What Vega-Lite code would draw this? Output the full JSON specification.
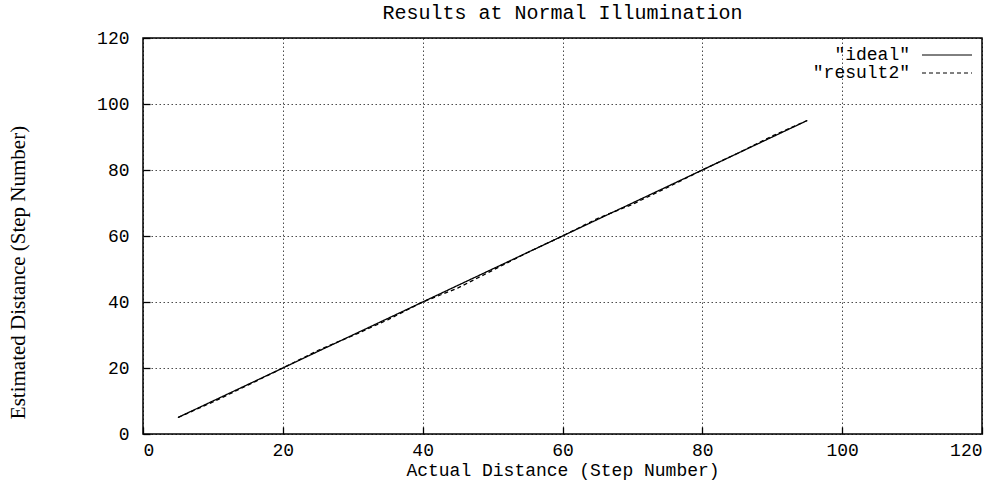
{
  "$schema": "https://vega.github.io/schema/vega-lite/v6.json",
  "autosize": "none",
  "width": 839,
  "height": 396,
  "padding": {"left": 143, "top": 38, "right": 26, "bottom": 49},
  "background": "white",
  "title": {"text": "Results at Normal Illumination", "font": "Liberation Mono", "fontSize": 20, "fontWeight": "normal", "color": "black", "offset": 6, "anchor": "middle"},
  "config": {
    "view": {"stroke": "black", "strokeWidth": 1.5},
    "axis": {
      "domain": false,
      "grid": true,
      "gridColor": "black",
      "gridDash": [1.5, 2.5],
      "gridOpacity": 0.7,
      "gridWidth": 1,
      "ticks": true,
      "tickColor": "black",
      "tickSize": -7,
      "tickWidth": 1.3,
      "labelFont": "Liberation Mono",
      "labelFontSize": 18,
      "labelColor": "black",
      "titleColor": "black",
      "titleFontWeight": "normal"
    }
  },
  "data": {
    "values": [
      {"x": 5, "y": 5, "series": "\"ideal\""},
      {"x": 95, "y": 95, "series": "\"ideal\""},
      {"x": 5, "y": 5, "series": "\"result2\""},
      {"x": 10, "y": 9.7, "series": "\"result2\""},
      {"x": 15, "y": 14.8, "series": "\"result2\""},
      {"x": 20, "y": 20, "series": "\"result2\""},
      {"x": 25, "y": 25.3, "series": "\"result2\""},
      {"x": 30, "y": 29.8, "series": "\"result2\""},
      {"x": 35, "y": 34.6, "series": "\"result2\""},
      {"x": 40, "y": 40, "series": "\"result2\""},
      {"x": 45, "y": 44.2, "series": "\"result2\""},
      {"x": 50, "y": 49.6, "series": "\"result2\""},
      {"x": 55, "y": 55, "series": "\"result2\""},
      {"x": 60, "y": 60, "series": "\"result2\""},
      {"x": 65, "y": 65.3, "series": "\"result2\""},
      {"x": 70, "y": 69.6, "series": "\"result2\""},
      {"x": 75, "y": 74.7, "series": "\"result2\""},
      {"x": 80, "y": 80, "series": "\"result2\""},
      {"x": 85, "y": 85, "series": "\"result2\""},
      {"x": 90, "y": 90.3, "series": "\"result2\""},
      {"x": 95, "y": 95, "series": "\"result2\""}
    ]
  },
  "mark": {"type": "line", "color": "black", "strokeWidth": 1.3},
  "encoding": {
    "x": {
      "field": "x", "type": "quantitative",
      "scale": {"domain": [0, 120], "nice": false, "zero": false},
      "axis": {"values": [0, 20, 40, 60, 80, 100, 120], "title": "Actual Distance (Step Number)", "titleFont": "Liberation Mono", "titleFontSize": 18, "labelPadding": 14, "titlePadding": 2}
    },
    "y": {
      "field": "y", "type": "quantitative",
      "scale": {"domain": [0, 120], "nice": false, "zero": false},
      "axis": {"values": [0, 20, 40, 60, 80, 100, 120], "title": "Estimated Distance (Step Number)", "titleFont": "Liberation Serif", "titleFontSize": 21, "titleY": 234, "labelPadding": 21, "titlePadding": 68}
    },
    "strokeDash": {
      "field": "series", "type": "nominal",
      "scale": {"domain": ["\"ideal\"", "\"result2\""], "range": [[1, 0], [4, 3]]},
      "legend": {
        "title": null,
        "orient": "top-right",
        "offset": 8,
        "symbolType": "M-5,0H5",
        "symbolSize": 100,
        "symbolStrokeWidth": 1,
        "symbolStrokeColor": "black",
        "labelFont": "Liberation Mono",
        "labelFontSize": 18,
        "labelColor": "black",
        "labelAlign": "right",
        "labelOffset": -46,
        "rowPadding": -6,
        "padding": 0
      }
    }
  }
}
